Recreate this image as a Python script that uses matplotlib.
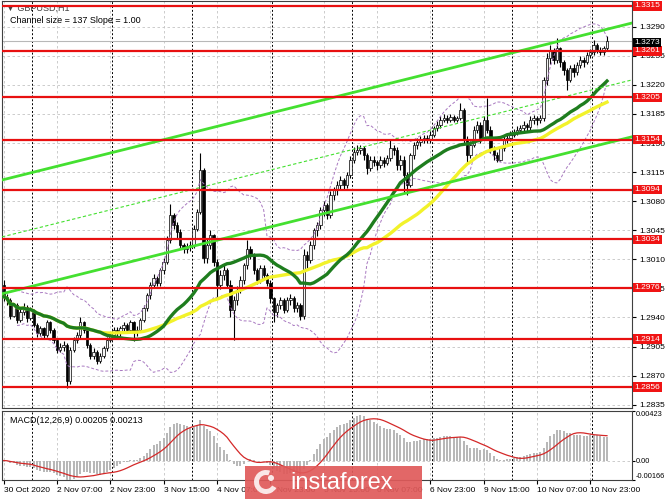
import numpy as np
import pandas as pd
import matplotlib
matplotlib.use("Agg")
import matplotlib.pyplot as plt
import matplotlib.transforms as mtransforms
from matplotlib.patches import Rectangle, Wedge, Circle

plt.rcParams["font.family"] = ["Liberation Sans", "DejaVu Sans"]

# GBPUSD H1, 30 Oct 2020 15:00 .. 11 Nov 2020 04:00 (weekends skipped)
first_open = 1.2979
closes = [
    1.2965, 1.2961, 1.2942, 1.2955, 1.2937, 1.2946, 1.2953, 1.2939, 1.2949, 1.2931,
    1.2921, 1.2927, 1.2919, 1.2934, 1.2925, 1.2913, 1.2901, 1.2904, 1.2907, 1.2864,
    1.2901, 1.2913, 1.2919, 1.2934, 1.2925, 1.2907, 1.2894, 1.2898, 1.2888, 1.2894,
    1.2903, 1.2913, 1.2919, 1.2925, 1.2921, 1.2927, 1.2931, 1.2925, 1.2934, 1.2922,
    1.2925, 1.2937, 1.2951, 1.2967, 1.2979, 1.2987, 1.2981, 1.2997, 1.3007, 1.3033,
    1.3063, 1.3051, 1.3043, 1.3027, 1.3023, 1.3026, 1.3027, 1.3047, 1.3067, 1.3117,
    1.3011, 1.3027, 1.3039, 1.3007, 1.2979, 1.2991, 1.2997, 1.2979, 1.2949, 1.2961,
    1.2973, 1.2985, 1.3003, 1.3023, 1.3015, 1.2997, 1.2985, 1.2999, 1.2991, 1.2982,
    1.2963, 1.2946, 1.2955, 1.2961, 1.2949, 1.2961, 1.2963, 1.2951, 1.2955, 1.2942,
    1.3015, 1.3009, 1.3027, 1.3045, 1.3051, 1.3069, 1.3075, 1.3063, 1.3087, 1.3093,
    1.3099, 1.3105, 1.3099, 1.3111, 1.3130, 1.3139, 1.3142, 1.3144, 1.3135, 1.3120,
    1.3130, 1.3127, 1.3123, 1.3130, 1.3126, 1.3132, 1.3144, 1.3142, 1.3123, 1.3130,
    1.3111, 1.3099, 1.3135, 1.3148, 1.3151, 1.3154, 1.3156, 1.3154, 1.3160, 1.3168,
    1.3172, 1.3178, 1.3180, 1.3178, 1.3181, 1.3178, 1.3180, 1.3190, 1.3154, 1.3135,
    1.3148, 1.3166, 1.3172, 1.3156, 1.3178, 1.3166, 1.3142, 1.3135, 1.3130, 1.3144,
    1.3154, 1.3156, 1.3160, 1.3163, 1.3166, 1.3168, 1.3172, 1.3169, 1.3178, 1.3180,
    1.3178, 1.3180, 1.3226, 1.3252, 1.3262, 1.3250, 1.3264, 1.3248, 1.3238, 1.3226,
    1.3240, 1.3235, 1.3244, 1.3250, 1.3248, 1.3256, 1.3260, 1.3268, 1.3262, 1.3260,
    1.3264, 1.3273,
]
highs = [
    1.2985, 1.2968, 1.2963, 1.2958, 1.2957, 1.2950, 1.2957, 1.2955, 1.2952, 1.2950,
    1.2933, 1.2930, 1.2929, 1.2937, 1.2936, 1.2927, 1.2915, 1.2909, 1.2912, 1.2909,
    1.2904, 1.2916, 1.2923, 1.2940, 1.2936, 1.2927, 1.2909, 1.2903, 1.2901, 1.2897,
    1.2906, 1.2916, 1.2923, 1.2928, 1.2928, 1.2930, 1.2935, 1.2933, 1.2937, 1.2936,
    1.2930, 1.2939, 1.2955, 1.2970, 1.2983, 1.2992, 1.2990, 1.3000, 1.3012, 1.3038,
    1.3077, 1.3066, 1.3055, 1.3047, 1.3030, 1.3030, 1.3032, 1.3051, 1.3070, 1.3138,
    1.3120, 1.3035, 1.3045, 1.3040, 1.3010, 1.2997, 1.3003, 1.3000, 1.2985, 1.2966,
    1.2978, 1.2990, 1.3006, 1.3033, 1.3026, 1.3018, 1.3000, 1.3003, 1.3003, 1.2994,
    1.2985, 1.2965, 1.2958, 1.2965, 1.2963, 1.2965, 1.2968, 1.2966, 1.2959, 1.2958,
    1.3022, 1.3020, 1.3032, 1.3048, 1.3055, 1.3073, 1.3080, 1.3078, 1.3092, 1.3097,
    1.3104, 1.3110, 1.3108, 1.3115, 1.3134, 1.3145, 1.3148, 1.3148, 1.3146, 1.3138,
    1.3134, 1.3134, 1.3130, 1.3134, 1.3133, 1.3136, 1.3155, 1.3148, 1.3145, 1.3135,
    1.3134, 1.3115, 1.3138, 1.3151, 1.3156, 1.3158, 1.3160, 1.3160, 1.3164, 1.3171,
    1.3176, 1.3182, 1.3185, 1.3184, 1.3185, 1.3184, 1.3183, 1.3198, 1.3192, 1.3158,
    1.3152, 1.3170, 1.3176, 1.3175, 1.3182, 1.3204, 1.3170, 1.3146, 1.3139, 1.3147,
    1.3158, 1.3160, 1.3164, 1.3167, 1.3170, 1.3172, 1.3176, 1.3174, 1.3182, 1.3184,
    1.3183, 1.3184, 1.3230, 1.3258, 1.3268, 1.3265, 1.3276, 1.3266, 1.3250, 1.3240,
    1.3244, 1.3245, 1.3248, 1.3255, 1.3253, 1.3260, 1.3263, 1.3274, 1.3270, 1.3266,
    1.3267, 1.3279,
]
lows = [
    1.2960, 1.2955, 1.2938, 1.2940, 1.2933, 1.2934, 1.2943, 1.2935, 1.2937, 1.2928,
    1.2917, 1.2918, 1.2915, 1.2917, 1.2921, 1.2909, 1.2897, 1.2898, 1.2900, 1.2855,
    1.2860, 1.2898, 1.2909, 1.2915, 1.2921, 1.2903, 1.2890, 1.2890, 1.2884, 1.2885,
    1.2891, 1.2900, 1.2910, 1.2915, 1.2917, 1.2918, 1.2924, 1.2922, 1.2922, 1.2912,
    1.2918, 1.2922, 1.2934, 1.2948, 1.2962, 1.2975, 1.2978, 1.2978, 1.2992, 1.3004,
    1.3030, 1.3046, 1.3035, 1.3023, 1.3018, 1.3018, 1.3020, 1.3024, 1.3044, 1.3064,
    1.3005, 1.3005, 1.3022, 1.3002, 1.2964, 1.2974, 1.2985, 1.2975, 1.2940, 1.2913,
    1.2955, 1.2969, 1.2980, 1.2998, 1.3010, 1.2992, 1.2980, 1.2982, 1.2987, 1.2978,
    1.2958, 1.2934, 1.2940, 1.2950, 1.2945, 1.2946, 1.2955, 1.2946, 1.2947, 1.2937,
    1.2938, 1.3000, 1.3005, 1.3022, 1.3038, 1.3046, 1.3062, 1.3058, 1.3060, 1.3082,
    1.3088, 1.3094, 1.3094, 1.3096, 1.3108, 1.3126, 1.3135, 1.3137, 1.3130, 1.3113,
    1.3116, 1.3122, 1.3118, 1.3120, 1.3121, 1.3124, 1.3128, 1.3136, 1.3118, 1.3118,
    1.3090, 1.3087, 1.3097, 1.3131, 1.3143, 1.3147, 1.3150, 1.3150, 1.3150, 1.3157,
    1.3164, 1.3168, 1.3175, 1.3174, 1.3175, 1.3175, 1.3175, 1.3178, 1.3150, 1.3126,
    1.3132, 1.3145, 1.3162, 1.3150, 1.3154, 1.3162, 1.3138, 1.3130, 1.3127, 1.3128,
    1.3140, 1.3150, 1.3152, 1.3157, 1.3160, 1.3162, 1.3165, 1.3165, 1.3166, 1.3173,
    1.3172, 1.3174, 1.3176, 1.3220, 1.3245, 1.3245, 1.3246, 1.3242, 1.3232, 1.3214,
    1.3224, 1.3230, 1.3232, 1.3240, 1.3242, 1.3245, 1.3252, 1.3256, 1.3258, 1.3256,
    1.3256, 1.3262,
]

levels = [1.3315, 1.3261, 1.3205, 1.3154, 1.3094, 1.3034, 1.2976, 1.2914, 1.2856]
last_price = 1.3273

# regression channel: lower line at first bar, width, slope per bar
channel_low_start = 1.2969
channel_size = 0.0137
channel_slope = 0.0001

price_ticks = [1.2835, 1.2870, 1.2905, 1.2940, 1.2975, 1.3010, 1.3045,
               1.3080, 1.3115, 1.3150, 1.3185, 1.3220, 1.3255, 1.3290]
macd_ticks = [-0.00166, 0.0, 0.00423]
macd_tick_labels = ["-0.00166", "0.00", "0.00423"]

# ---- derived series
c = np.array(closes)
h = np.array(highs)
l = np.array(lows)
o = np.concatenate([[first_open], c[:-1]])
n = len(c)
x = np.arange(n)

times = pd.date_range("2020-10-30 15:00", "2020-11-11 04:00", freq="h")
times = times[times.dayofweek < 5]

s = pd.Series(c)
ma30 = s.rolling(30, min_periods=1).mean()
ma50 = s.rolling(50, min_periods=1).mean()
bb_mid = s.rolling(20, min_periods=5).mean()
bb_sd = s.rolling(20, min_periods=5).std(ddof=0)
bb_up = bb_mid + 2 * bb_sd
bb_dn = bb_mid - 2 * bb_sd

macd = s.ewm(span=12, adjust=False).mean() - s.ewm(span=26, adjust=False).mean()
signal = macd.rolling(9, min_periods=1).mean()

# ---- figure
W, H = 665, 499
fig = plt.figure(figsize=(W / 100, H / 100), dpi=100)
fig.patch.set_facecolor("white")
ax = fig.add_axes([2 / W, 1 - 408 / H, 630 / W, 407 / H])
axm = fig.add_axes([2 / W, 1 - 480 / H, 630 / W, 69 / H], sharex=ax)

grid_kw = dict(color="#c4c4c4", ls=(0, (3, 3)), lw=0.6)
label_ticks = list(range(0, n, 16))
day_starts = [i for i in range(n) if times[i].hour == 0]

for a in (ax, axm):
    a.set_facecolor("white")
    for sp in a.spines.values():
        sp.set_color("#404040")
        sp.set_linewidth(0.8)
    a.yaxis.tick_right()
    a.tick_params(axis="y", labelsize=6, length=3, pad=2, colors="black")
    a.set_xticks(label_ticks)
    a.grid(True, **grid_kw)
    a.set_axisbelow(True)
    for d in day_starts:
        a.axvline(d - 0.5, color="black", ls=(0, (2, 2)), lw=0.7, zorder=1)

ax.set_xlim(-0.5, 188.5)
ax.set_ylim(1.2831, 1.3321)
ax.set_yticks(price_ticks)
ax.set_yticklabels([f"{p:.4f}" for p in price_ticks])
ax.tick_params(axis="x", length=0, labelbottom=False)

# candles
bull = c >= o
ax.vlines(x, l, h, color="black", lw=0.8, zorder=3)
body = np.maximum(np.abs(c - o), 0.00008)
ax.bar(x, body, bottom=np.minimum(o, c), width=0.7,
       color=np.where(bull, "#f4f4f4", "black"), edgecolor="black", lw=0.5, zorder=3)

# bands and moving averages
ax.plot(x, bb_up, color="#a878c0", ls=(0, (3, 2)), lw=0.7, zorder=4)
ax.plot(x, bb_dn, color="#a878c0", ls=(0, (3, 2)), lw=0.7, zorder=4)
ax.plot(x, ma50, color="#f2f22a", lw=2.4, zorder=4)
ax.plot(x, ma30, color="#1e7d1e", lw=2.4, zorder=4)

# channel
xc = np.array([-0.5, 188.5])
low_line = channel_low_start + channel_slope * xc
ax.plot(xc, low_line, color="#44e030", lw=2, zorder=5)
ax.plot(xc, low_line + channel_size, color="#44e030", lw=2, zorder=5)
ax.plot(xc, low_line + channel_size / 2, color="#44e030", lw=0.8, ls=(0, (3, 2)), zorder=5)

# levels
ax.axhline(last_price, color="#b8b8b8", lw=0.8, zorder=2)
trans = mtransforms.blended_transform_factory(ax.transAxes, ax.transData)
for lv in levels:
    ax.axhline(lv, color="#e81010", lw=1.6, zorder=5)
    ax.text(1.004, lv, f"{lv:.4f}", transform=trans, ha="left", va="center",
            fontsize=6, color="white", clip_on=False, zorder=10,
            bbox=dict(boxstyle="square,pad=0.15", fc="#f01414", ec="none"))
ax.text(1.004, last_price - 0.0002, f"{last_price:.4f}", transform=trans, ha="left",
        va="center", fontsize=6, color="white", clip_on=False, zorder=10,
        bbox=dict(boxstyle="square,pad=0.15", fc="black", ec="none"))

ax.text(0.006, 0.992, "\u25bc GBPUSD,H1", transform=ax.transAxes, ha="left", va="top",
        fontsize=6.5, color="#404040")
ax.text(0.012, 0.962, "Channel size = 137 Slope = 1.00", transform=ax.transAxes,
        ha="left", va="top", fontsize=6.5, color="black")

# MACD panel
axm.bar(x, macd, width=0.6, color="#b8b8b8", zorder=3)
axm.plot(x, signal, color="#d42828", lw=0.9, zorder=4)
axm.set_ylim(-0.00166, 0.00423)
axm.set_yticks(macd_ticks)
axm.set_yticklabels(macd_tick_labels)
axm.tick_params(axis="y", labelsize=5.3, length=2, pad=0.8)
top_lbl, bot_lbl = axm.get_yticklabels()[2], axm.get_yticklabels()[0]
top_lbl.set_va("top")
bot_lbl.set_va("bottom")
axm.text(0.012, 0.93, "MACD(12,26,9) 0.00205 0.00213", transform=axm.transAxes,
         ha="left", va="top", fontsize=6.5, color="black")

tick_labels = []
for i in label_ticks:
    t = times[i]
    tick_labels.append("30 Oct 2020" if i == 0 else f"{t.day} {t:%b %H:%M}")
axm.set_xticklabels(tick_labels, fontsize=6, ha="left")
axm.tick_params(axis="x", length=3, pad=2)

# watermark
fig.patches.append(Rectangle((245 / W, -0.01), 177 / W, (499 - 466) / H + 0.01,
                             transform=fig.transFigure, fc="#e05a5a", ec="none",
                             alpha=0.92, zorder=20))
ident = mtransforms.IdentityTransform()
fig.patches.append(Wedge((266, 17), 12, 70, 330, width=5, transform=ident,
                         fc="white", ec="none", alpha=0.85, zorder=21))
fig.patches.append(Circle((271, 21), 3, transform=ident, fc="white", ec="none",
                          alpha=0.85, zorder=21))
fig.text(290 / W, 1 - 483 / H, "instaforex", color="white", fontsize=17,
         ha="left", va="center", zorder=21)

fig.savefig("out.png", dpi=100)
